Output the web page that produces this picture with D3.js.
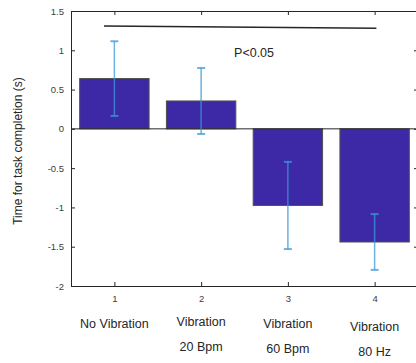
<!DOCTYPE html>
<html>
<head>
<meta charset="utf-8">
<script src="https://cdn.jsdelivr.net/npm/d3@7"></script>
<style>
  body { margin: 0; background: #fff; }
  text { font-family: "Liberation Sans", Arial, sans-serif; fill: #262626; }
  .tick text { font-size: 9.5px; fill: #404040; }
</style>
</head>
<body>
<div id="chart"></div>
<script>

// data

var groups = [1, 2, 3, 4];
var labelLines = [["No Vibration"], ["Vibration", "20 Bpm"], ["Vibration", "60 Bpm"], ["Vibration", "80 Hz"]];
var labelOffsets = [0, -2, 0, 3];
var means = [0.64, 0.355, -0.975, -1.44];
var errors = [0.475, 0.42, 0.555, 0.355];
var yTicks = [-2, -1.5, -1, -0.5, 0, 0.5, 1, 1.5];

// sizes

var width = 416,
    height = 363,
    marginLeft = 71,
    marginTop = 11,
    plotRight = 418,
    plotBottom = 286;

var svg = d3.select("#chart")
  .append("svg")
    .attr("width", width)
    .attr("height", height);

// scales

var xScale = d3.scaleLinear().domain([0.5, 4.5]).range([marginLeft, plotRight]);
var yScale = d3.scaleLinear().domain([-2, 1.5]).range([plotBottom, marginTop]);
var barW = xScale(1.4) - xScale(0.6);

// axes (ticks pointing inward, box all round)

svg.append("g")
  .attr("transform", "translate(0," + plotBottom + ")")
  .call(d3.axisBottom(xScale).tickValues(groups).tickSize(-4).tickPadding(9)
    .tickFormat(d3.format("d")).tickSizeOuter(0));

svg.append("g")
  .attr("transform", "translate(0," + marginTop + ")")
  .call(d3.axisTop(xScale).tickValues(groups).tickSize(-4).tickFormat("").tickSizeOuter(0));

svg.append("g")
  .attr("transform", "translate(" + marginLeft + ",0)")
  .call(d3.axisLeft(yScale).tickValues(yTicks).tickSize(-4).tickPadding(7)
    .tickFormat(function(d) { return d; }).tickSizeOuter(0));

svg.append("g")
  .attr("transform", "translate(" + plotRight + ",0)")
  .call(d3.axisRight(yScale).tickValues(yTicks).tickSize(-4).tickFormat("").tickSizeOuter(0));

svg.selectAll(".domain, .tick line").attr("stroke", "#262626");

// bars

svg.selectAll(".bar")
  .data(means)
  .enter()
  .append("rect")
    .attr("class", "bar")
    .attr("x", function(d, i) { return xScale(groups[i]) - barW / 2; })
    .attr("y", function(d) { return yScale(Math.max(0, d)); })
    .attr("width", barW)
    .attr("height", function(d) { return Math.abs(yScale(d) - yScale(0)); })
    .attr("fill", "#3d28a5")
    .attr("stroke", "#505050")
    .attr("stroke-width", 1);

// zero line
svg.append("line")
  .attr("x1", marginLeft).attr("x2", plotRight)
  .attr("y1", yScale(0)).attr("y2", yScale(0))
  .attr("stroke", "#262626");

// error bars

var eb = svg.selectAll(".err")
  .data(means)
  .enter()
  .append("g")
    .attr("class", "err")
    .attr("stroke", "#3a9ad9")
    .attr("stroke-opacity", 0.75)
    .attr("stroke-width", 1.5);

eb.append("line")
  .attr("x1", function(d, i) { return xScale(groups[i]); })
  .attr("x2", function(d, i) { return xScale(groups[i]); })
  .attr("y1", function(d, i) { return yScale(d + errors[i]); })
  .attr("y2", function(d, i) { return yScale(d - errors[i]); });

eb.selectAll(".cap")
  .data(function(d, i) { return [[i, d + errors[i]], [i, d - errors[i]]]; })
  .enter()
  .append("line")
    .attr("x1", function(d) { return xScale(groups[d[0]]) - 4; })
    .attr("x2", function(d) { return xScale(groups[d[0]]) + 4; })
    .attr("y1", function(d) { return yScale(d[1]); })
    .attr("y2", function(d) { return yScale(d[1]); })
    .attr("stroke-width", 2);

// significance line and label

svg.append("line")
  .attr("x1", xScale(0.88)).attr("x2", xScale(4.02))
  .attr("y1", yScale(1.31)).attr("y2", yScale(1.28))
  .attr("stroke", "#262626")
  .attr("stroke-width", 1.5);

svg.append("text")
  .attr("x", xScale(2.61))
  .attr("y", yScale(0.965))
  .attr("dy", "0.35em")
  .attr("text-anchor", "middle")
  .style("font-size", "12.5px")
  .text("P<0.05");

// category labels under the axis

labelLines.forEach(function(lines, i) {
  lines.forEach(function(t, j) {
    svg.append("text")
      .attr("x", xScale(groups[i]))
      .attr("y", 324 + labelOffsets[i] + j * 24.5)
      .attr("dy", "0.35em")
      .attr("text-anchor", "middle")
      .style("font-size", "12.5px")
      .text(t);
  });
});

// y axis title

svg.append("text")
  .attr("transform", "translate(18," + 151 + ") rotate(-90)")
  .attr("text-anchor", "middle")
  .attr("dy", "0.35em")
  .style("font-size", "12px")
  .text("Time for task completion (s)");

</script>
</body>
</html>
